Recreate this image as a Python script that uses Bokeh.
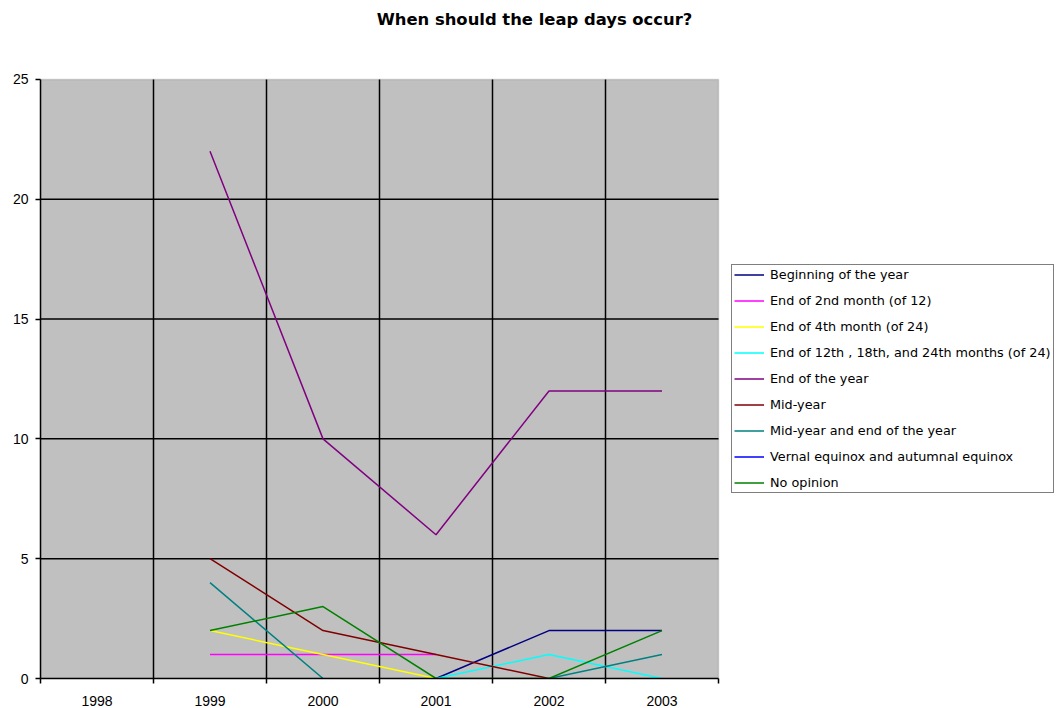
from bokeh.plotting import figure
from bokeh.models import Range1d, FixedTicker, Legend, LegendItem, BoxAnnotation, Label
from bokeh.embed import file_html
from bokeh.resources import INLINE

nan = float("nan")

title_text = "When should the leap days occur?"
years = [1998, 1999, 2000, 2001, 2002, 2003]
year_labels = ["1998", "1999", "2000", "2001", "2002", "2003"]
y_ticks = [0, 5, 10, 15, 20, 25]

beginning_of_year = [nan, nan, nan, 0, 2, 2]
end_2nd_month = [nan, 1, 1, 1, nan, nan]
end_4th_month = [nan, 2, 1, 0, nan, nan]
end_12_18_24_months = [nan, nan, nan, 0, 1, 0]
end_of_year = [nan, 22, 10, 6, 12, 12]
mid_year = [nan, 5, 2, 1, 0, nan]
mid_and_end_of_year = [nan, 4, 0, nan, 0, 1]
vernal_autumnal_equinox = [nan, nan, nan, nan, nan, nan]
no_opinion = [nan, 2, 3, 0, 0, 2]

series_names = [
    "Beginning of the year",
    "End of 2nd month (of 12)",
    "End of 4th month (of 24)",
    "End of 12th , 18th, and 24th months (of 24)",
    "End of the year",
    "Mid-year",
    "Mid-year and end of the year",
    "Vernal equinox and autumnal equinox",
    "No opinion",
]
series_values = [
    beginning_of_year, end_2nd_month, end_4th_month, end_12_18_24_months,
    end_of_year, mid_year, mid_and_end_of_year, vernal_autumnal_equinox, no_opinion,
]
series_colors = ["#000080", "#FF00FF", "#FFFF00", "#00FFFF", "#800080",
                 "#800000", "#008080", "#0000FF", "#008000"]

# layout: plot area 678 x 600 px, extra room on the right for the legend and above for the title
W, H = 1057, 708
left_px, bottom_px = 40, 29
area_w, area_h = 678, 600
frame_w, frame_h = W - left_px, H - bottom_px

boundaries = [y - 0.5 for y in years] + [years[-1] + 0.5]
x_span = boundaries[-1] - boundaries[0]
y_span = y_ticks[-1] - y_ticks[0]
x_end = boundaries[0] + x_span * frame_w / area_w
y_end = y_ticks[0] + y_span * frame_h / area_h

p = figure(width=W, height=H, output_backend="svg", toolbar_location=None, title=None,
           x_range=Range1d(boundaries[0], x_end), y_range=Range1d(y_ticks[0], y_end),
           min_border_left=left_px, min_border_right=0, min_border_top=0, min_border_bottom=bottom_px,
           background_fill_color="white", border_fill_color="white",
           outline_line_color=None)

# grey plot area
p.add_layout(BoxAnnotation(left=boundaries[0], right=boundaries[-1],
                           bottom=y_ticks[0], top=y_ticks[-1],
                           fill_color="#C0C0C0", fill_alpha=1.0,
                           line_color="#808080", line_width=1.5, level="image"))

# gridlines limited to the plot area
inner_x = boundaries[1:-1]
inner_y = y_ticks[1:-1]
p.segment(x0=inner_x, x1=inner_x, y0=[y_ticks[0]] * len(inner_x), y1=[y_ticks[-1]] * len(inner_x),
          line_color="black", line_width=1.5)
p.segment(x0=[boundaries[0]] * len(inner_y), x1=[boundaries[-1]] * len(inner_y), y0=inner_y, y1=inner_y,
          line_color="black", line_width=1.5)
p.xgrid.grid_line_color = None
p.ygrid.grid_line_color = None

# title
p.add_layout(Label(x=area_w / 2 + 155, y=frame_h - 20, x_units="screen", y_units="screen",
                   text=title_text, text_align="center", text_baseline="middle",
                   text_font="DejaVu Sans", text_font_size="16.4px", text_font_style="bold",
                   text_color="black"))

# x axis
p.xaxis.ticker = FixedTicker(ticks=years, minor_ticks=boundaries)
p.xaxis.major_label_overrides = {y: lab for y, lab in zip(years, year_labels)}
p.xaxis.bounds = (boundaries[0], boundaries[-1])
p.xaxis.major_tick_out = 0
p.xaxis.major_tick_in = 0
p.xaxis.minor_tick_out = 5
p.xaxis.minor_tick_in = 0
p.xaxis.minor_tick_line_color = "black"
p.xaxis.minor_tick_line_width = 1.5
p.xaxis.major_label_standoff = 12

# y axis
p.yaxis.ticker = FixedTicker(ticks=y_ticks)
p.yaxis.bounds = (y_ticks[0], y_ticks[-1])
p.yaxis.major_tick_out = 5
p.yaxis.major_tick_in = 0
p.yaxis.minor_tick_out = 0
p.yaxis.major_tick_line_width = 1.5
p.yaxis.major_label_standoff = 7

for ax in (p.xaxis, p.yaxis):
    ax.axis_line_color = "black"
    ax.axis_line_width = 1.5
    ax.major_tick_line_color = "black"
    ax.major_label_text_font = "Liberation Sans"
    ax.major_label_text_font_size = "14px"
    ax.major_label_text_color = "black"

items = []
for name, vals, col in zip(series_names, series_values, series_colors):
    r = p.line(years, vals, line_color=col, line_width=1.5)
    items.append(LegendItem(label=name, renderers=[r]))

legend = Legend(items=items, location=(area_w + 13, 185),
                border_line_color="black", border_line_width=1.5,
                background_fill_color="white", background_fill_alpha=1.0,
                padding=2, margin=0, spacing=11,
                glyph_width=30, glyph_height=15, label_height=15, label_standoff=6,
                label_text_font="DejaVu Sans", label_text_font_size="12.8px",
                label_text_color="black")
p.add_layout(legend)

open("out.html", "w").write(file_html(p, INLINE))
